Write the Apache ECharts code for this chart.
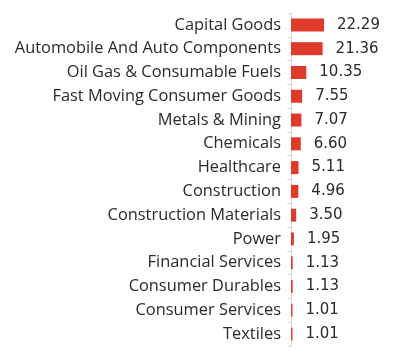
<!DOCTYPE html>
<html><head><meta charset="utf-8">
<script src="https://cdn.jsdelivr.net/npm/echarts@6/dist/echarts.min.js"></script>
<style>html,body{margin:0;padding:0;background:#fff}#c{width:411px;height:359px}</style>
</head><body><div id="c"></div>
<script>
const categories = ["Capital Goods","Automobile And Auto Components","Oil Gas & Consumable Fuels","Fast Moving Consumer Goods","Metals & Mining","Chemicals","Healthcare","Construction","Construction Materials","Power","Financial Services","Consumer Durables","Consumer Services","Textiles"];
const values = [22.29,21.36,10.35,7.55,7.07,6.60,5.11,4.96,3.50,1.95,1.13,1.13,1.01,1.01];
const chart = echarts.init(document.getElementById('c'), null, {renderer:'canvas'});
chart.setOption({
  animation:false,
  grid:{left:291,top:13,width:74,height:333,containLabel:false},
  xAxis:{type:'value',min:0,max:50,show:false},
  yAxis:{type:'category',data:categories,inverse:true,
    axisLine:{show:true,lineStyle:{color:'#d9d9d9'}},
    axisTick:{show:true,length:4,lineStyle:{color:'#d9d9d9'}},
    axisLabel:{color:'#2a2a2a',fontSize:16.4,fontFamily:'Open Sans',margin:10}},
  series:[{type:'bar',data:values,barWidth:13,itemStyle:{color:'#e03a2a'},
    label:{show:true,position:'right',distance:13,color:'#2a2a2a',fontSize:15,fontFamily:'DejaVu Sans',
      formatter:p=>p.value.toFixed(2)}}]
});
</script></body></html>
